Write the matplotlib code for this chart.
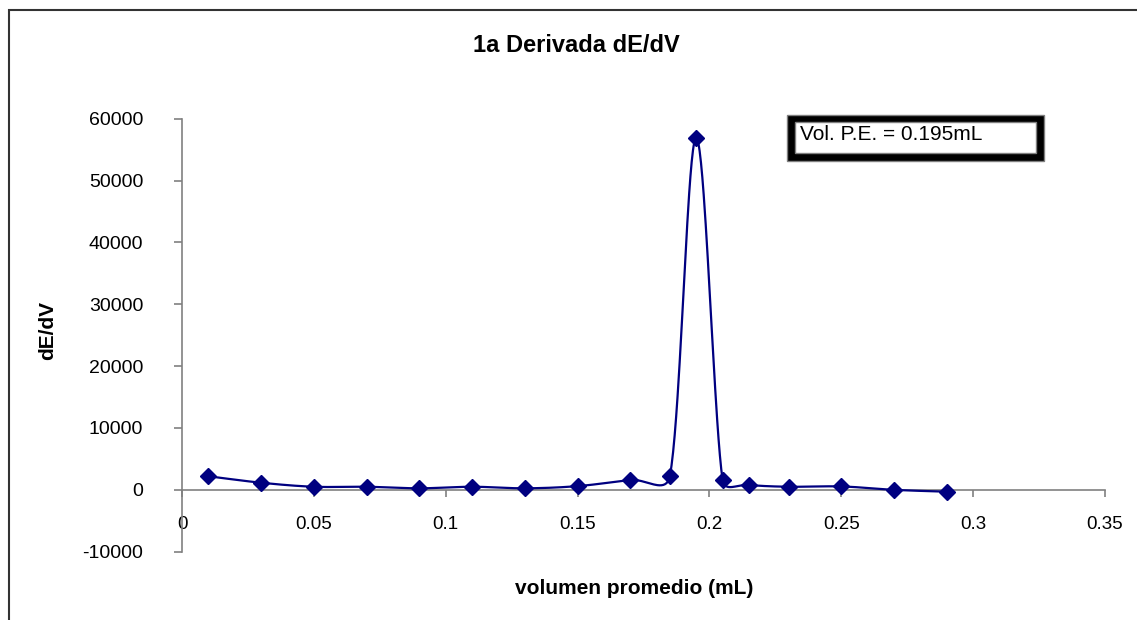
import numpy as np
import matplotlib
matplotlib.use("Agg")
import matplotlib.pyplot as plt
from matplotlib.patches import Rectangle

plt.rcParams['font.family'] = ['Liberation Sans', 'DejaVu Sans']

# data
vol = [0.01, 0.03, 0.05, 0.07, 0.09, 0.11, 0.13, 0.15, 0.17, 0.185,
       0.195, 0.205, 0.215, 0.23, 0.25, 0.27, 0.29]
dEdV = [2200, 1150, 500, 500, 250, 500, 250, 600, 1600, 2250,
        56900, 1600, 800, 500, 550, 0, -300]

x_ticks = [0, 0.05, 0.1, 0.15, 0.2, 0.25, 0.3, 0.35]
x_labels = ['0', '0.05', '0.1', '0.15', '0.2', '0.25', '0.3', '0.35']
y_ticks = [-10000, 0, 10000, 20000, 30000, 40000, 50000, 60000]
y_labels = ['-10000', '0', '10000', '20000', '30000', '40000', '50000', '60000']

W, H = 1137, 620
navy = '#000080'
grey = '#808080'

fig = plt.figure(figsize=(W / 100, H / 100), dpi=100)
ax = fig.add_axes([182 / W, (H - 551.7) / H, 923 / W, 433 / H])
ax.set_xlim(0, 0.35)
ax.set_ylim(-10000, 60000)

ax.spines['top'].set_visible(False)
ax.spines['right'].set_visible(False)
ax.spines['bottom'].set_position(('data', 0))
for s in ('bottom', 'left'):
    ax.spines[s].set_color(grey)
    ax.spines[s].set_linewidth(1.2)

ax.set_xticks(x_ticks)
ax.set_xticklabels(x_labels, fontsize=13.5)
ax.set_yticks(y_ticks)
ax.set_yticklabels(y_labels, fontsize=14)
ax.tick_params(axis='x', direction='out', length=5, width=1.2, color=grey, pad=14)
ax.tick_params(axis='y', direction='out', length=6, width=1.2, color=grey, pad=22)

# smoothed line like Excel (bezier through the points, in screen space,
# control arms limited to half the segment length)
pts = ax.transData.transform(np.column_stack([vol, dEdV]))
P = np.vstack([pts[0], pts, pts[-1]])
t = np.linspace(0, 1, 40)[:, None]
curve = []
for i in range(len(pts) - 1):
    p0, p1, p2, p3 = P[i], P[i + 1], P[i + 2], P[i + 3]
    d12 = np.hypot(*(p2 - p1))
    v1 = (p2 - p0) / 6
    v2 = (p3 - p1) / 6
    if np.hypot(*v1) > d12 / 2:
        v1 = v1 * (d12 / 2) / np.hypot(*v1)
    if np.hypot(*v2) > d12 / 2:
        v2 = v2 * (d12 / 2) / np.hypot(*v2)
    c1 = p1 + v1
    c2 = p2 - v2
    seg = ((1 - t) ** 3) * p1 + 3 * ((1 - t) ** 2) * t * c1 + 3 * (1 - t) * t ** 2 * c2 + t ** 3 * p2
    curve.append(seg)
curve = ax.transData.inverted().transform(np.vstack(curve))

ax.plot(curve[:, 0], curve[:, 1], color=navy, lw=1.6, zorder=3)
ax.plot(vol, dEdV, linestyle='none', marker='D', ms=8, color=navy, zorder=4)

# titles
fig.text(576 / W, 1 - 46 / H, '1a Derivada dE/dV', fontsize=17, fontweight='bold',
         ha='center', va='center')
fig.text(634 / W, 1 - 588 / H, 'volumen promedio (mL)', fontsize=15, fontweight='bold',
         ha='center', va='center')
fig.text(48 / W, 1 - 330 / H, 'dE/dV', fontsize=15, fontweight='bold',
         ha='center', va='center', rotation=90)

# annotation box
fig.patches.append(Rectangle((787 / W, 1 - 161 / H), 257 / W, 46 / H,
                             transform=fig.transFigure, facecolor='black',
                             edgecolor=grey, lw=1))
fig.patches.append(Rectangle((795 / W, 1 - 153 / H), 241 / W, 31 / H,
                             transform=fig.transFigure, facecolor='white',
                             edgecolor=grey, lw=1))
fig.text(800 / W, 1 - 135 / H, 'Vol. P.E. = 0.195mL', fontsize=15,
         ha='left', va='center')

# outer chart frame
fig.patches.append(Rectangle((9 / W, -0.1), 1.2, (H - 10) / H + 0.1,
                             transform=fig.transFigure, fill=False,
                             edgecolor='#333333', lw=1.5))

fig.savefig('out.png', dpi=100)
